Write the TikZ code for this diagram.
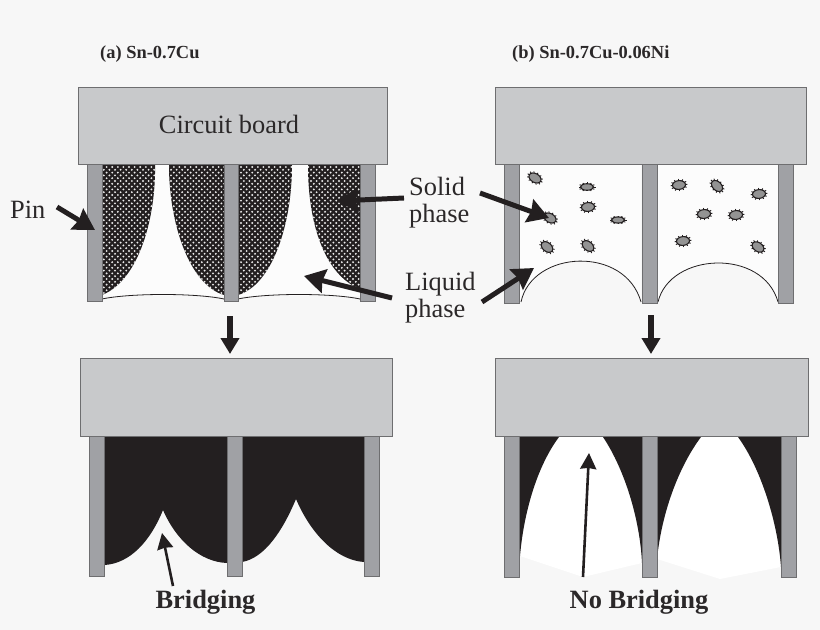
\documentclass[tikz,border=0pt]{standalone}
\usepackage{fontspec}
\setmainfont{Liberation Serif}
\usetikzlibrary{arrows.meta}
\definecolor{bgc}{HTML}{F7F7F7}
\definecolor{boardc}{HTML}{C8C9CB}
\definecolor{pinc}{HTML}{A0A1A5}
\definecolor{edgec}{HTML}{6E6E70}
\definecolor{inkc}{HTML}{231F20}
\definecolor{txtc}{HTML}{2B2829}
\definecolor{wellc}{HTML}{FCFCFC}
\tikzset{
  board/.style={fill=boardc,draw=edgec,line width=0.9pt},
  pinbar/.style={fill=pinc,draw=edgec,line width=0.9pt},
  fatarrow/.style={draw=inkc,line width=5pt,-{Stealth[inset=2pt,length=21pt,width=24pt]}},
  downarrow/.style={draw=inkc,line width=7pt,-{Triangle[length=16pt,width=18pt]}},
  thinarrow/.style={draw=inkc,line width=2.6pt,-{Stealth[inset=1pt,length=16pt,width=16pt]}},
  lab/.style={text=txtc,font=\fontsize{26.5}{27}\selectfont,inner sep=0pt,align=left},
  boldlab/.style={text=txtc,font=\fontsize{26.5}{28}\selectfont\bfseries,inner sep=0pt},
  headlab/.style={text=txtc,font=\fontsize{18.5}{20}\selectfont\bfseries,inner sep=0pt},
  grain/.pic={
    \foreach \a in {0,30,...,330}
      \draw[inkc,line width=0.9pt] (\a:6 and 4) -- (\a:8.5 and 6);
    \fill[gray!85,draw=inkc,line width=1.1pt] (0,0) ellipse (6.5 and 4.4);
  }
}
\begin{document}
\begin{tikzpicture}[x=1bp,y=-1bp]
\useasboundingbox (0,0) rectangle (820,630);
\fill[bgc] (0,0) rectangle (820,630);

% (a) top
\fill[wellc] (102,165) rectangle (360,296);
\begin{scope}
  \clip (102,165) -- (155,165) .. controls (156,215) and (140,280) .. (102,295) -- cycle
        (169,165) .. controls (169,225) and (190,285) .. (224,295) -- (224,165) -- cycle
        (238,165) -- (238,295) .. controls (272,285) and (292,225) .. (292,165) -- cycle
        (308,165) .. controls (308,225) and (325,275) .. (360,289) -- (360,165) -- cycle;
  \fill[inkc] (100,160) rectangle (362,300);
  \foreach \i in {0,...,48}
    \foreach \j in {0,...,48} {
      \pgfmathsetmacro{\px}{101+\i*5.6+mod(\j,2)*2.8}
      \pgfmathsetmacro{\py}{167+\j*2.8}
      \fill[white!85!gray] (\px,\py) circle (1.05);
    }
\end{scope}
\draw[inkc,line width=0.8pt] (102,299) .. controls (130,293) and (196,293) .. (224,299);
\draw[inkc,line width=0.8pt] (238,299) .. controls (266,293) and (332,293) .. (360,299);
\foreach \x in {87.5,224,360.5}
  \draw[pinbar] (\x,164) rectangle (\x+14.5,301.5);
\draw[board] (78.5,87.5) rectangle (387,164.5);
\node[lab] (circuit) at (229,124) {Circuit board};

% (b) top
\fill[wellc] (520,165) -- (520,302) .. controls (532,250) and (625,245) .. (641,302) -- (641,165) -- cycle;
\fill[wellc] (657,165) -- (657,302) .. controls (670,252) and (763,248) .. (778,302) -- (778,165) -- cycle;
\draw[inkc,line width=0.8pt] (521,302) .. controls (532,250) and (625,245) .. (641,302);
\draw[inkc,line width=0.8pt] (658,302) .. controls (670,252) and (763,248) .. (778,302);
\foreach \x in {504.5,642,778.5}
  \draw[pinbar] (\x,164) rectangle (\x+15,303);
\draw[board] (495.5,87) rectangle (806.5,164.5);
\pic[rotate=-30] at (535,178) {grain};
\pic[rotate=0,yscale=0.75] at (587,187) {grain};
\pic[rotate=5] at (588,207) {grain};
\pic[rotate=-30] at (550,218) {grain};
\pic[rotate=0,yscale=0.7] at (618,220) {grain};
\pic[rotate=-40] at (547,247) {grain};
\pic[rotate=-40] at (588,246) {grain};
\pic[rotate=5] at (679,185) {grain};
\pic[rotate=-45] at (717,186) {grain};
\pic[rotate=5] at (759,194) {grain};
\pic[rotate=5] at (704,214) {grain};
\pic[rotate=5] at (736,215) {grain};
\pic[rotate=5] at (683,241) {grain};
\pic[rotate=-35] at (758,247) {grain};

% (a) bottom
\fill[inkc] (105,437) -- (105,565) .. controls (130,563) and (150,542) .. (163,510)
  .. controls (176,540) and (200,562) .. (227,563) -- (227,437) -- cycle;
\fill[inkc] (242,437) -- (242,562) .. controls (265,558) and (283,530) .. (296,499)
  .. controls (310,532) and (335,560) .. (364,562) -- (364,437) -- cycle;
\foreach \x/\w in {89.5/15,227/15,364/15}
  \draw[pinbar] (\x,436) rectangle (\x+\w,576);
\draw[board] (80.5,358.5) rectangle (392,436.5);

% (b) bottom
\fill[white] (520,556) .. controls (524,510) and (538,465) .. (559,437) -- (603,437)
  .. controls (625,470) and (640,520) .. (642,563) -- (583,577) -- cycle;
\fill[white] (657,559) .. controls (662,510) and (680,465) .. (701,437) -- (738,437)
  .. controls (762,470) and (778,525) .. (781,567) -- (720,579) -- cycle;
\fill[inkc] (519,437) -- (559,437) .. controls (538,465) and (524,510) .. (520,556) -- cycle;
\fill[inkc] (603,437) -- (642,437) -- (642,563) .. controls (640,520) and (625,470) .. (603,437) -- cycle;
\fill[inkc] (657,437) -- (701,437) .. controls (680,465) and (662,510) .. (657,559) -- cycle;
\fill[inkc] (738,437) -- (781,437) -- (781,567) .. controls (778,525) and (762,470) .. (738,437) -- cycle;
\foreach \x in {504,642,781}
  \draw[pinbar] (\x,436) rectangle (\x+15,577);
\draw[board] (495.5,358.5) rectangle (808,436.5);

% labels
\node[headlab,anchor=base west] (heada) at (100,59) {(a) Sn-0.7Cu};
\node[headlab,anchor=base west] (headb) at (512,59) {(b) Sn-0.7Cu-0.06Ni};
\node[lab,anchor=base west] (pinlabel) at (10,219) {Pin};
\node[lab,anchor=base west] (solid) at (409,196) {Solid};
\node[lab,anchor=base west] (solidb) at (409,223) {phase};
\node[lab,anchor=base west] (liquid) at (405,290) {Liquid};
\node[lab,anchor=base west] (liquidb) at (405,317) {phase};
\node[boldlab,anchor=base] (bridge) at (205.5,608) {Bridging};
\node[boldlab,anchor=base] (nobridge) at (639,608) {No Bridging};

% arrows
\coordinate (pinS) at (57,207);  \coordinate (pinE) at (95,230);
\coordinate (solSa) at (404,198); \coordinate (solEa) at (337,201);
\coordinate (solSb) at (480,193); \coordinate (solEb) at (549,218);
\coordinate (liqSa) at (392,298); \coordinate (liqEa) at (304,276);
\coordinate (liqSb) at (482,302); \coordinate (liqEb) at (534,268);
\coordinate (downSa) at (230,316); \coordinate (downEa) at (230,354);
\coordinate (downSb) at (651,315); \coordinate (downEb) at (651,354);
\coordinate (briS) at (173,586); \coordinate (briE) at (162,533);
\coordinate (nobS) at (583,577); \coordinate (nobE) at (589,453);
\draw[fatarrow] (pinS) -- (pinE);
\draw[fatarrow] (solSa) -- (solEa);
\draw[fatarrow] (solSb) -- (solEb);
\draw[fatarrow] (liqSa) -- (liqEa);
\draw[fatarrow] (liqSb) -- (liqEb);
\draw[downarrow] (downSa) -- (downEa);
\draw[downarrow] (downSb) -- (downEb);
\draw[thinarrow] (briS) -- (briE);
\draw[thinarrow] (nobS) -- (nobE);
\end{tikzpicture}
\end{document}
